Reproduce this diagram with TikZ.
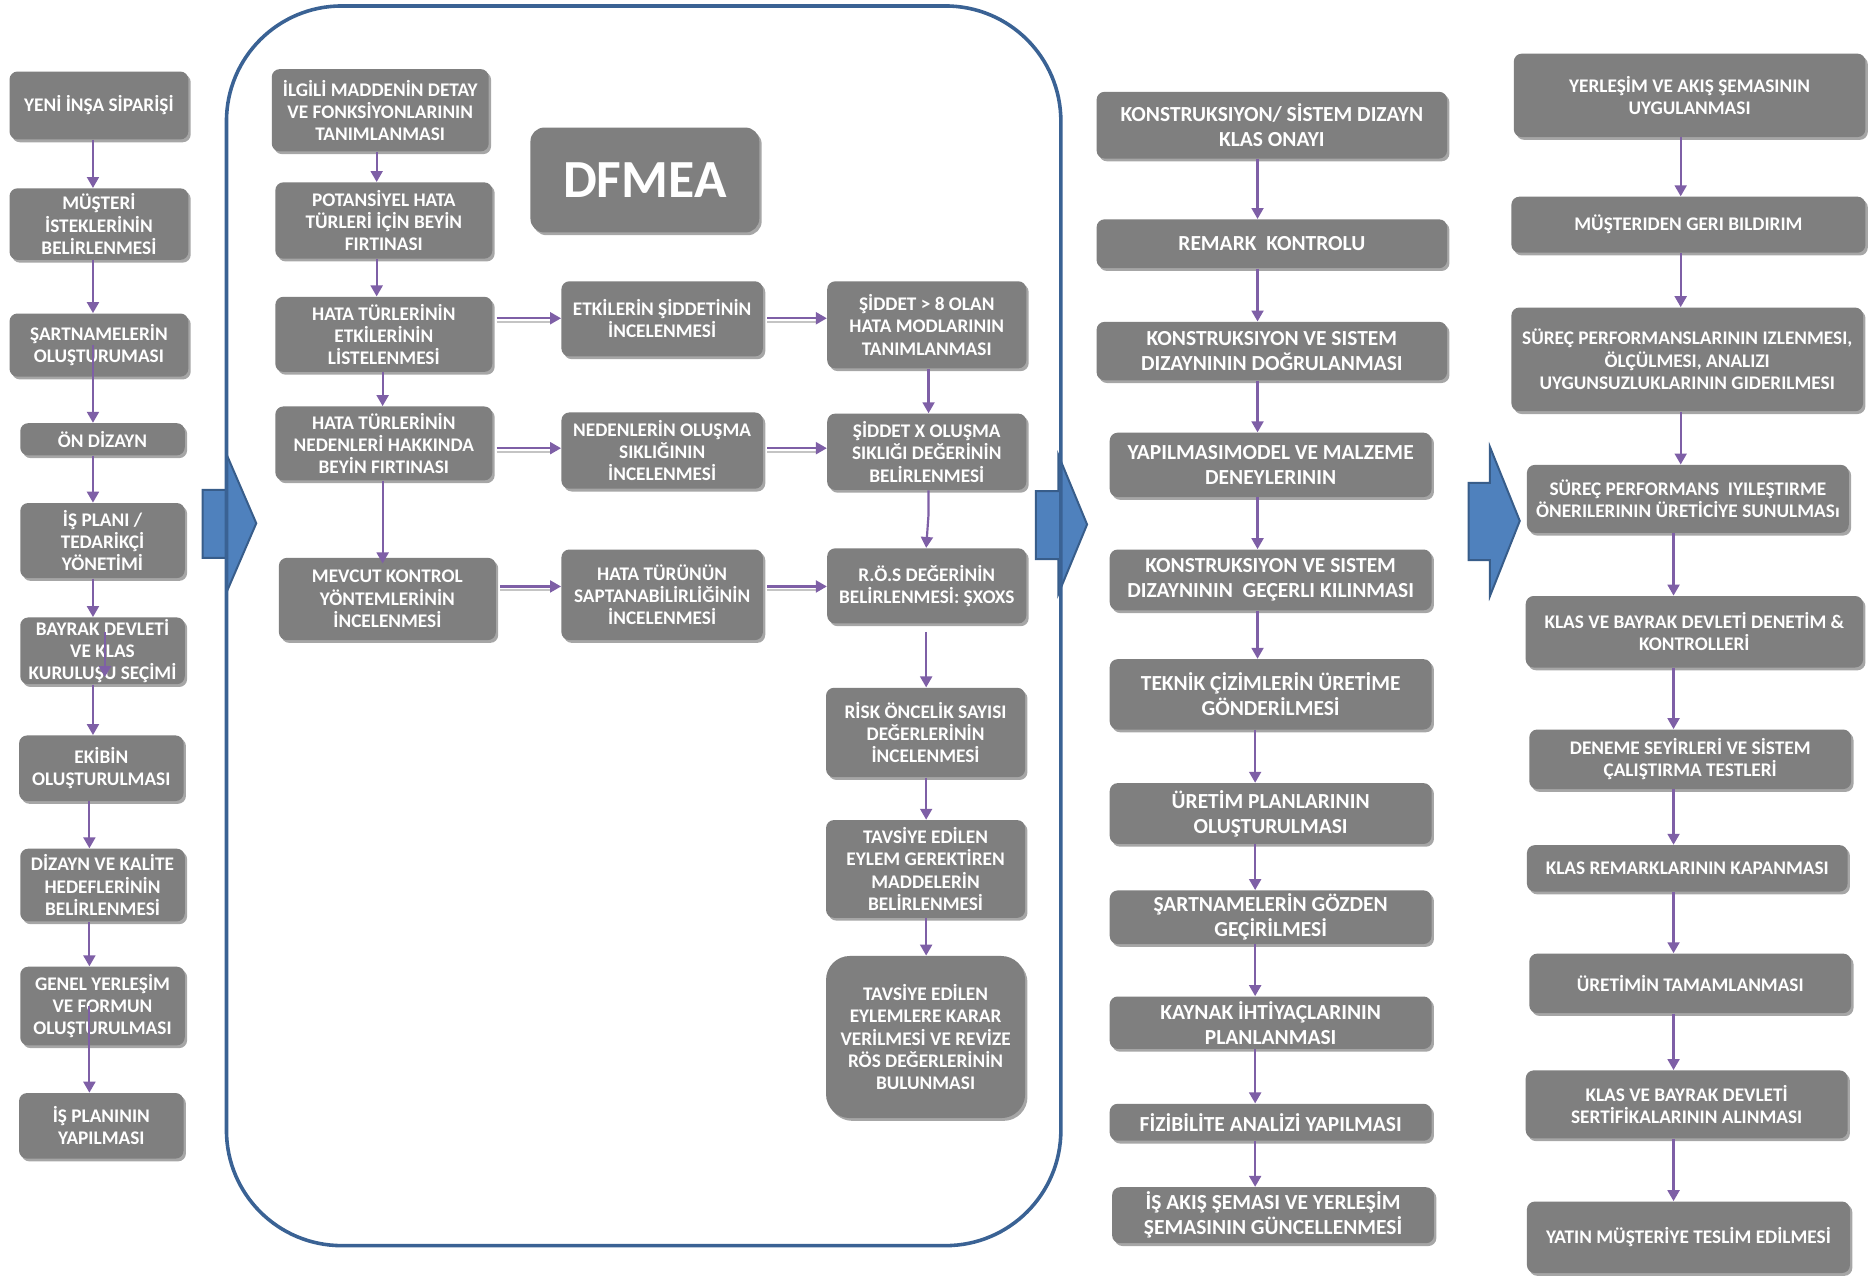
\documentclass[tikz,border=0pt]{standalone}
\usepackage{fontspec}
\setmainfont{Carlito}
\usetikzlibrary{arrows.meta,shadows,calc}
\definecolor{boxgray}{HTML}{7F7F7F}
\definecolor{arrpurple}{HTML}{7E5FA6}
\definecolor{shadeline}{HTML}{C4C4C4}
\definecolor{frameblue}{HTML}{3A6294}
\definecolor{blockfill}{HTML}{4F81BD}
\definecolor{blockline}{HTML}{385D8A}
\tikzset{
  gbox/.style={rectangle, rounded corners=4pt, fill=boxgray, text=white,
    font=\bfseries\fontsize{9.7}{11.2}\selectfont, align=center, inner sep=0pt,
    drop shadow={shadow xshift=1.2pt, shadow yshift=-1.4pt, fill=black, opacity=0.35}},
  bigfont/.style={font=\bfseries\fontsize{10.8}{12.6}\selectfont},
  flow/.style={draw=arrpurple, line width=1.1pt, -{Triangle[width=6pt,length=5.5pt]}},
  flowshade/.style={draw=shadeline, line width=1pt},
  blockarrow/.style={fill=blockfill, draw=blockline, line width=1pt, line join=miter},
  frame/.style={draw=frameblue, line width=1.8pt, rounded corners=58pt},
}
\newcommand\bx[7][]{\node[gbox,#1,minimum width={(#5-#3)*0.6pt},minimum height={(#6-#4)*0.6pt}] (#2) at ({(#3+#5)/2},{(#4+#6)/2}) {#7};}
\newcommand\harr[3]{%
  \draw[flowshade] ($(#1.east |- #3)+(2pt,-1.7pt)$) -- ($(#2.west |- #3)+(-4pt,-1.7pt)$);
  \draw[flow] ($(#1.east |- #3)+(2pt,0)$) -- (#2.west |- #3);}
\begin{document}
\begin{tikzpicture}[x=0.6pt,y=-0.6pt]
\useasboundingbox (0,0) rectangle (1568,1071);
\fill[white] (0,0) rectangle (1568,1071);

% block arrows
\draw[blockarrow] (170,411) -- (190,411) -- (190,381) -- (215,439) -- (190,497) -- (190,468) -- (170,468) -- cycle;
\draw[blockarrow] (869,412) -- (888,412) -- (888,382) -- (912,440) -- (888,498) -- (888,469) -- (869,469) -- cycle;
\draw[blockarrow] (1232,405) -- (1250,405) -- (1250,375) -- (1275,437) -- (1250,500) -- (1250,470) -- (1232,470) -- cycle;

% DFMEA container
\draw[frame] (190,5) rectangle (890,1045);

% left column
\bx{n1}{8}{60}{158}{117}{YENİ İNŞA SİPARİŞİ}
\bx{n2}{8}{158}{158}{218}{MÜŞTERİ\\İSTEKLERİNİN\\BELİRLENMESİ}
\bx{n3}{8}{263}{158}{316}{ŞARTNAMELERİN\\OLUŞTURUMASI}
\bx{n4}{17}{355}{155}{382}{ÖN DİZAYN}
\bx{n5}{17}{422}{155}{485}{İŞ PLANI /\\TEDARİKÇİ\\YÖNETİMİ}
\bx{n6}{17}{518}{155}{574}{BAYRAK DEVLETİ\\VE KLAS\\KURULUŞU SEÇİMİ}
\bx{n7}{16}{617}{154}{672}{EKİBİN\\OLUŞTURULMASI}
\bx{n8}{17}{712}{155}{773}{DİZAYN VE KALİTE\\HEDEFLERİNİN\\BELİRLENMESİ}
\bx{n9}{17}{811}{155}{877}{GENEL YERLEŞİM\\VE FORMUN\\OLUŞTURULMASI}
\bx{n10}{16}{917}{154}{972}{İŞ PLANININ\\YAPILMASI}

% DFMEA
\bx[font=\bfseries\fontsize{27}{30}\selectfont, rounded corners=7pt]{dt}{445}{107}{637}{195}{DFMEA}
\bx{d1}{228}{58}{410}{127}{İLGİLİ MADDENİN DETAY\\VE FONKSİYONLARININ\\TANIMLANMASI}
\bx{d2}{231}{153}{413}{217}{POTANSİYEL HATA\\TÜRLERİ İÇİN BEYİN\\FIRTINASI}
\bx{d3}{231}{249}{413}{312}{HATA TÜRLERİNİN\\ETKİLERİNİN\\LİSTELENMESİ}
\bx{d4}{231}{341}{413}{403}{HATA TÜRLERİNİN\\NEDENLERİ HAKKINDA\\BEYİN FIRTINASI}
\bx{d5}{234}{468}{416}{537}{MEVCUT KONTROL\\YÖNTEMLERİNİN\\İNCELENMESİ}
\bx{d6}{471}{236}{640}{299}{ETKİLERİN ŞİDDETİNİN\\İNCELENMESİ}
\bx{d7}{471}{346}{640}{410}{NEDENLERİN OLUŞMA\\SIKLIĞININ\\İNCELENMESİ}
\bx{d8}{471}{461}{640}{537}{HATA TÜRÜNÜN\\SAPTANABİLİRLİĞİNİN\\İNCELENMESİ}
\bx{d9}{694}{236}{861}{309}{ŞİDDET > 8 OLAN\\HATA MODLARININ\\TANIMLANMASI}
\bx{d10}{694}{347}{861}{411}{ŞİDDET X OLUŞMA\\SIKLIĞI DEĞERİNİN\\BELİRLENMESİ}
\bx{d11}{694}{460}{861}{523}{R.Ö.S DEĞERİNİN\\BELİRLENMESİ: ŞXOXS}
\bx{d12}{693}{577}{860}{652}{RİSK ÖNCELİK SAYISI\\DEĞERLERİNİN\\İNCELENMESİ}
\bx{d13}{693}{688}{860}{770}{TAVSİYE EDİLEN\\EYLEM GEREKTİREN\\MADDELERİN\\BELİRLENMESİ}
\bx[rounded corners=12pt]{d14}{693}{802}{860}{938}{TAVSİYE EDİLEN\\EYLEMLERE KARAR\\VERİLMESİ VE REVİZE\\RÖS DEĞERLERİNİN\\BULUNMASI}

% third column
\bx[bigfont]{c1}{920}{77}{1214}{133}{KONSTRUKSIYON/ SİSTEM DIZAYN\\KLAS ONAYI}
\bx[bigfont]{c2}{920}{184}{1214}{225}{REMARK\ \ KONTROLU}
\bx[bigfont]{c3}{920}{270}{1214}{319}{KONSTRUKSIYON VE SISTEM\\DIZAYNININ DOĞRULANMASI}
\bx[bigfont]{c4}{931}{363}{1201}{417}{YAPILMASIMODEL VE MALZEME\\DENEYLERININ}
\bx[bigfont]{c5}{931}{461}{1201}{512}{KONSTRUKSIYON VE SISTEM\\DIZAYNININ\ \ GEÇERLI KILINMASI}
\bx[bigfont]{c6}{931}{553}{1201}{612}{TEKNİK ÇİZİMLERİN ÜRETİME\\GÖNDERİLMESİ}
\bx[bigfont]{c7}{931}{657}{1201}{708}{ÜRETİM PLANLARININ\\OLUŞTURULMASI}
\bx[bigfont]{c8}{931}{747}{1201}{792}{ŞARTNAMELERİN GÖZDEN\\GEÇİRİLMESİ}
\bx[bigfont]{c9}{931}{836}{1201}{880}{KAYNAK İHTİYAÇLARININ\\PLANLANMASI}
\bx[bigfont]{c10}{931}{926}{1201}{957}{FİZİBİLİTE ANALİZİ YAPILMASI}
\bx[bigfont]{c11}{933}{996}{1203}{1043}{İŞ AKIŞ ŞEMASI VE YERLEŞİM\\ŞEMASININ GÜNCELLENMESİ}

% fourth column
\bx{r1}{1270}{45}{1565}{115}{YERLEŞİM VE AKIŞ ŞEMASININ\\UYGULANMASI}
\bx{r2}{1268}{165}{1565}{212}{MÜŞTERIDEN GERI BILDIRIM}
\bx{r3}{1268}{258}{1563}{345}{SÜREÇ PERFORMANSLARININ IZLENMESI,\\ÖLÇÜLMESI, ANALIZI\\UYGUNSUZLUKLARININ GIDERILMESI}
\bx{r4}{1281}{390}{1551}{447}{SÜREÇ PERFORMANS\ \ IYILEŞTIRME\\ÖNERILERININ ÜRETİCİYE SUNULMASı}
\bx{r5}{1280}{500}{1563}{560}{KLAS VE BAYRAK DEVLETİ DENETİM \&\\KONTROLLERİ}
\bx{r6}{1283}{612}{1553}{662}{DENEME SEYİRLERİ VE SİSTEM\\ÇALIŞTIRMA TESTLERİ}
\bx{r7}{1281}{709}{1550}{748}{KLAS REMARKLARININ KAPANMASI}
\bx{r8}{1283}{800}{1553}{850}{ÜRETİMİN TAMAMLANMASI}
\bx{r9}{1280}{898}{1550}{955}{KLAS VE BAYRAK DEVLETİ\\SERTİFİKALARININ ALINMASI}
\bx{r10}{1281}{1008}{1552}{1068}{YATIN MÜŞTERİYE TESLİM EDİLMESİ}

% arrow guide coordinates
\coordinate (lx1) at (78,0);
\coordinate (lx2) at (75,0);
\coordinate (dx1) at (316,0);
\coordinate (dx2) at (321,0);
\coordinate (dx3) at (779,0);
\coordinate (dx4) at (777,0);
\coordinate (cx1) at (1055,0);
\coordinate (cx2) at (1053,0);
\coordinate (rx1) at (1410,0);
\coordinate (rx2) at (1404,0);
\coordinate (row1) at (0,267);
\coordinate (row2) at (0,376);
\coordinate (row3) at (0,492);
\coordinate (s1) at (88,530);
\coordinate (s2) at (88,568);

% left column arrows
\draw[flow] (n1.south -| lx1) -- (n2.north -| lx1);
\draw[flow] (n2.south -| lx1) -- (n3.north -| lx1);
\draw[flow] (n3.center -| lx1) -- (n4.north -| lx1);
\draw[flow] (n4.south -| lx1) -- (n5.north -| lx1);
\draw[flow] (n5.south -| lx1) -- (n6.north -| lx1);
\draw[flow] (s1) -- (s2);
\draw[flow] (n6.south -| lx1) -- (n7.north -| lx1);
\draw[flow] (n7.south -| lx2) -- (n8.north -| lx2);
\draw[flow] (n8.south -| lx2) -- (n9.north -| lx2);
\draw[flow] (n9.center -| lx2) -- (n10.north -| lx2);

% DFMEA arrows
\draw[flow] (d1.south -| dx1) -- (d2.north -| dx1);
\draw[flow] (d2.south -| dx1) -- (d3.north -| dx1);
\draw[flow] (d3.south -| dx2) -- (d4.north -| dx2);
\draw[flow] (d4.south -| dx2) -- ($(d5.north -| dx2)+(0,-3pt)$);
\harr{d3}{d6}{row1}
\harr{d6}{d9}{row1}
\harr{d4}{d7}{row2}
\harr{d7}{d10}{row2}
\harr{d5}{d8}{row3}
\harr{d8}{d11}{row3}
\draw[flow] (d9.south -| dx3) -- (d10.north -| dx3);
\draw[flow] (d10.south -| dx3) -- ($(d10.south -| dx3)+(0,-12pt)$) -- (d11.north -| dx4);
\draw[flow] ($(d11.south -| dx4)+(0,-4pt)$) -- (d12.north -| dx4);
\draw[flow] (d12.south -| dx4) -- (d13.north -| dx4);
\draw[flow] (d13.south -| dx4) -- (d14.north -| dx4);

% third column arrows
\draw[flow] (c1.south -| cx1) -- (c2.north -| cx1);
\draw[flow] (c2.south -| cx1) -- (c3.north -| cx1);
\draw[flow] (c3.south -| cx1) -- (c4.north -| cx1);
\draw[flow] (c4.south -| cx1) -- (c5.north -| cx1);
\draw[flow] (c5.south -| cx1) -- (c6.north -| cx1);
\draw[flow] (c6.south -| cx2) -- (c7.north -| cx2);
\draw[flow] (c7.south -| cx2) -- (c8.north -| cx2);
\draw[flow] (c8.south -| cx2) -- (c9.north -| cx2);
\draw[flow] (c9.south -| cx2) -- (c10.north -| cx2);
\draw[flow] (c10.south -| cx2) -- (c11.north -| cx2);

% fourth column arrows
\draw[flow] (r1.south -| rx1) -- (r2.north -| rx1);
\draw[flow] (r2.south -| rx1) -- (r3.north -| rx1);
\draw[flow] (r3.south -| rx1) -- (r4.north -| rx1);
\draw[flow] (r4.south -| rx2) -- (r5.north -| rx2);
\draw[flow] (r5.south -| rx2) -- (r6.north -| rx2);
\draw[flow] (r6.south -| rx2) -- (r7.north -| rx2);
\draw[flow] (r7.south -| rx2) -- (r8.north -| rx2);
\draw[flow] (r8.south -| rx2) -- (r9.north -| rx2);
\draw[flow] (r9.south -| rx2) -- (r10.north -| rx2);
\end{tikzpicture}
\end{document}
